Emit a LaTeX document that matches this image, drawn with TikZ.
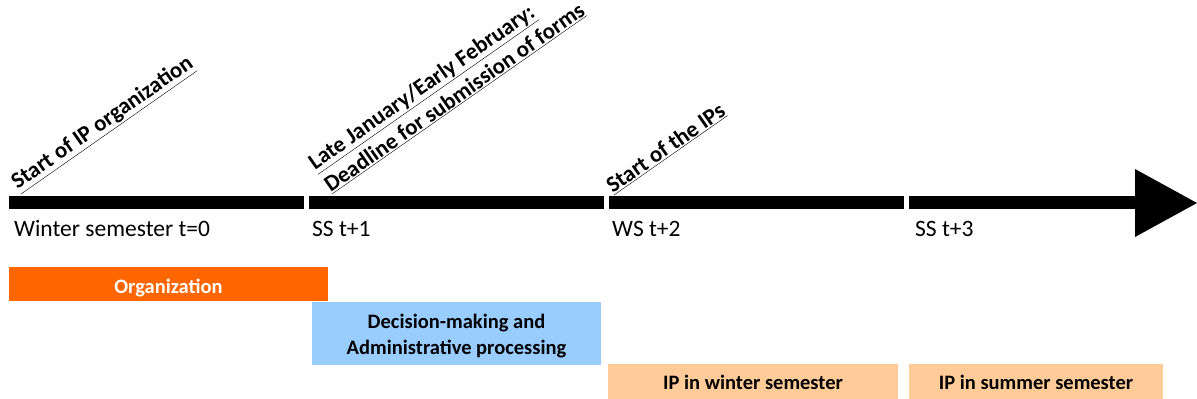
\documentclass[tikz,border=0pt]{standalone}
\usepackage{fontspec}
\setmainfont{Carlito}
\definecolor{orgorange}{HTML}{FF6600}
\definecolor{decblue}{HTML}{99CCFF}
\definecolor{ippeach}{HTML}{FFCC99}
\begin{document}
\begin{tikzpicture}[x=1pt,y=-1pt,
  barseg/.style={fill=black},
  semlabel/.style={anchor=base west,inner sep=0pt,font=\fontsize{23.5}{28}\selectfont},
  milestone/.style={anchor=south west,inner sep=0pt,rotate=35,align=left,font=\bfseries\fontsize{22.75}{27.5}\selectfont},
  phasebox/.style={draw=none,inner sep=0pt,align=center,font=\bfseries\fontsize{20.5}{25}\selectfont}
]
\useasboundingbox (0,0) rectangle (1197,399);
% timeline
\fill[barseg] (9,196) rectangle (304,209);
\fill[barseg] (309,196) rectangle (604,209);
\fill[barseg] (609,196) rectangle (904,209);
\fill[barseg] (909,196) rectangle (1136,209);
\fill[barseg] (1135,169) -- (1197,203) -- (1135,237) -- cycle;
% semester labels
\node[semlabel] (ws0) at (14,236) {Winter semester t=0};
\node[semlabel] (ss1) at (312,236) {SS t+1};
\node[semlabel] (ws2) at (612,236) {WS t+2};
\node[semlabel] (ss3) at (915,236) {SS t+3};
% milestones
\node[milestone] (m1) at (21,195) {\underline{Start of IP organization}};
\node[milestone] (m2) at (332,195) {\underline{Late January/Early February:}\\\underline{Deadline for submission of forms}};
\node[milestone] (m3) at (614,196) {\underline{Start of the IPs}};
% phases
\node[phasebox,fill=orgorange,text=white,minimum width=319pt,minimum height=34pt] (org) at (168.5,284) {\raisebox{-9.5pt}[0pt][0pt]{Organization}};
\node[phasebox,fill=decblue,text=black,minimum width=289pt,minimum height=63pt] (dec) at (456.5,333.5) {\raisebox{-21pt}[0pt][0pt]{\shortstack{Decision-making and\\[5pt]Administrative processing}}};
\node[phasebox,fill=ippeach,text=black,minimum width=290pt,minimum height=35pt] (ipw) at (753,381.5) {\raisebox{-8pt}[0pt][0pt]{IP in winter semester}};
\node[phasebox,fill=ippeach,text=black,minimum width=254pt,minimum height=35pt] (ips) at (1036,381.5) {\raisebox{-8pt}[0pt][0pt]{IP in summer semester}};
\end{tikzpicture}
\end{document}
